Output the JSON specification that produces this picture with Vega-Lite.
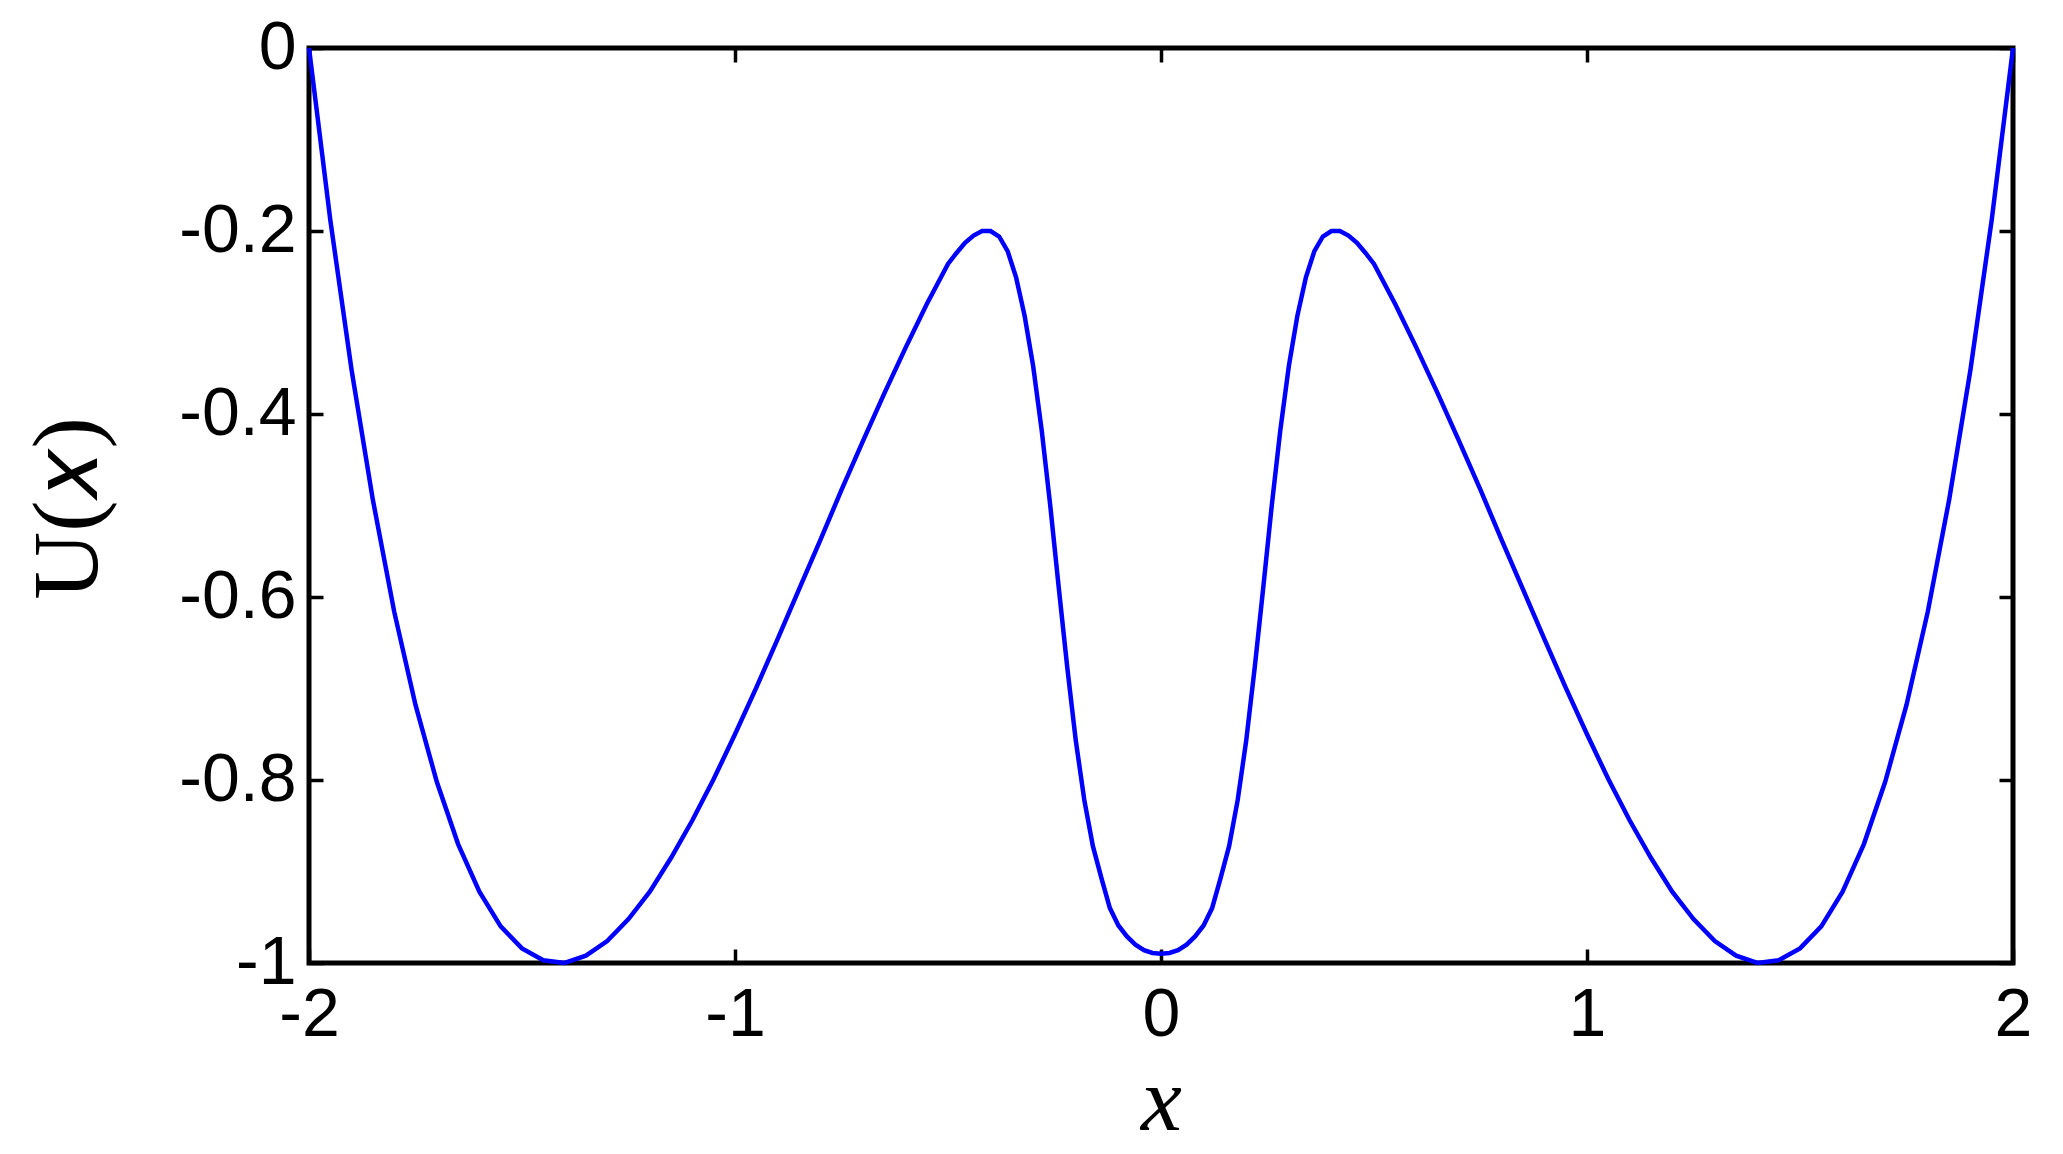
{
  "$schema": "https://vega.github.io/schema/vega-lite/v6.json",
  "width": 1704,
  "height": 915,
  "autosize": "none",
  "padding": {"left": 309, "top": 48, "right": 50, "bottom": 191},
  "background": "white",
  "config": {
    "view": {"stroke": "black", "strokeWidth": 5},
    "axis": {
      "domain": false,
      "grid": false,
      "ticks": true,
      "tickColor": "black",
      "tickWidth": 3.5,
      "labelFont": "Liberation Sans",
      "labelFontSize": 68,
      "labelColor": "black",
      "labelFlush": false,
      "labelOverlap": false,
      "labelBound": false,
      "titleColor": "black",
      "titleFont": "Liberation Serif",
      "titleFontWeight": "normal"
    }
  },
  "data": {
    "values": [
      {"x": -2.0, "U": 0.0}, {"x": -1.95, "U": -0.188}, {"x": -1.9, "U": -0.352}, {"x": -1.85, "U": -0.494},
      {"x": -1.8, "U": -0.616}, {"x": -1.75, "U": -0.718}, {"x": -1.7, "U": -0.802}, {"x": -1.65, "U": -0.87},
      {"x": -1.6, "U": -0.922}, {"x": -1.55, "U": -0.96}, {"x": -1.5, "U": -0.984}, {"x": -1.45, "U": -0.997},
      {"x": -1.4, "U": -1.0}, {"x": -1.35, "U": -0.992}, {"x": -1.3, "U": -0.976}, {"x": -1.25, "U": -0.952},
      {"x": -1.2, "U": -0.922}, {"x": -1.15, "U": -0.885}, {"x": -1.1, "U": -0.844}, {"x": -1.05, "U": -0.799},
      {"x": -1.0, "U": -0.75}, {"x": -0.95, "U": -0.699}, {"x": -0.9, "U": -0.646}, {"x": -0.85, "U": -0.592},
      {"x": -0.8, "U": -0.538}, {"x": -0.75, "U": -0.483}, {"x": -0.7, "U": -0.43}, {"x": -0.65, "U": -0.378},
      {"x": -0.6, "U": -0.328}, {"x": -0.55, "U": -0.28}, {"x": -0.5, "U": -0.236}, {"x": -0.48, "U": -0.224},
      {"x": -0.46, "U": -0.213}, {"x": -0.44, "U": -0.205}, {"x": -0.42, "U": -0.2}, {"x": -0.4, "U": -0.2},
      {"x": -0.38, "U": -0.206}, {"x": -0.36, "U": -0.222}, {"x": -0.34, "U": -0.251}, {"x": -0.32, "U": -0.293},
      {"x": -0.3, "U": -0.348}, {"x": -0.28, "U": -0.418}, {"x": -0.26, "U": -0.5}, {"x": -0.24, "U": -0.59},
      {"x": -0.22, "U": -0.677}, {"x": -0.2, "U": -0.757}, {"x": -0.18, "U": -0.822}, {"x": -0.16, "U": -0.872},
      {"x": -0.14, "U": -0.907}, {"x": -0.12, "U": -0.94}, {"x": -0.1, "U": -0.959}, {"x": -0.08, "U": -0.971},
      {"x": -0.06, "U": -0.98}, {"x": -0.04, "U": -0.986}, {"x": -0.02, "U": -0.989}, {"x": 0.0, "U": -0.99},
      {"x": 0.02, "U": -0.989}, {"x": 0.04, "U": -0.986}, {"x": 0.06, "U": -0.98}, {"x": 0.08, "U": -0.971},
      {"x": 0.1, "U": -0.959}, {"x": 0.12, "U": -0.94}, {"x": 0.14, "U": -0.907}, {"x": 0.16, "U": -0.872},
      {"x": 0.18, "U": -0.822}, {"x": 0.2, "U": -0.757}, {"x": 0.22, "U": -0.677}, {"x": 0.24, "U": -0.59},
      {"x": 0.26, "U": -0.5}, {"x": 0.28, "U": -0.418}, {"x": 0.3, "U": -0.348}, {"x": 0.32, "U": -0.293},
      {"x": 0.34, "U": -0.251}, {"x": 0.36, "U": -0.222}, {"x": 0.38, "U": -0.206}, {"x": 0.4, "U": -0.2},
      {"x": 0.42, "U": -0.2}, {"x": 0.44, "U": -0.205}, {"x": 0.46, "U": -0.213}, {"x": 0.48, "U": -0.224},
      {"x": 0.5, "U": -0.236}, {"x": 0.55, "U": -0.28}, {"x": 0.6, "U": -0.328}, {"x": 0.65, "U": -0.378},
      {"x": 0.7, "U": -0.43}, {"x": 0.75, "U": -0.483}, {"x": 0.8, "U": -0.538}, {"x": 0.85, "U": -0.592},
      {"x": 0.9, "U": -0.646}, {"x": 0.95, "U": -0.699}, {"x": 1.0, "U": -0.75}, {"x": 1.05, "U": -0.799},
      {"x": 1.1, "U": -0.844}, {"x": 1.15, "U": -0.885}, {"x": 1.2, "U": -0.922}, {"x": 1.25, "U": -0.952},
      {"x": 1.3, "U": -0.976}, {"x": 1.35, "U": -0.992}, {"x": 1.4, "U": -1.0}, {"x": 1.45, "U": -0.997},
      {"x": 1.5, "U": -0.984}, {"x": 1.55, "U": -0.96}, {"x": 1.6, "U": -0.922}, {"x": 1.65, "U": -0.87},
      {"x": 1.7, "U": -0.802}, {"x": 1.75, "U": -0.718}, {"x": 1.8, "U": -0.616}, {"x": 1.85, "U": -0.494},
      {"x": 1.9, "U": -0.352}, {"x": 1.95, "U": -0.188}, {"x": 2.0, "U": 0.0}
    ]
  },
  "layer": [
    {
      "mark": {"type": "line", "color": "#0000ff", "strokeWidth": 4.5, "clip": false},
      "encoding": {
        "x": {
          "field": "x",
          "type": "quantitative",
          "scale": {"domain": [-2, 2], "nice": false, "zero": false},
          "axis": {
            "orient": "bottom",
            "values": [-2, -1, 0, 1, 2],
            "tickSize": {"expr": "-14"},
            "labelPadding": 32,
            "labelExpr": "'' + datum.value",
            "title": "x",
            "titleFontStyle": "italic",
            "titleFontSize": 92,
            "titleBaseline": "alphabetic",
            "titleAlign": "center",
            "titleX": 852,
            "titleY": 166
          }
        },
        "y": {
          "field": "U",
          "type": "quantitative",
          "scale": {"domain": [-1, 0], "nice": false, "zero": false},
          "axis": {
            "orient": "left",
            "values": [-1, -0.8, -0.6, -0.4, -0.2, 0],
            "tickSize": {"expr": "-14"},
            "labelPadding": 27,
            "labelExpr": "'' + datum.value",
            "title": "U(\ud835\udc65)",
            "titleFontSize": 94,
            "titleAngle": 270,
            "titleBaseline": "alphabetic",
            "titleAlign": "center",
            "titleX": -213,
            "titleY": 460
          }
        }
      }
    },
    {
      "mark": {"type": "line", "opacity": 0},
      "encoding": {
        "x": {
          "field": "x",
          "type": "quantitative",
          "axis": {"orient": "top", "values": [-2, -1, 0, 1, 2], "tickSize": {"expr": "-14"}, "labels": false, "title": null}
        },
        "y": {
          "field": "U",
          "type": "quantitative",
          "axis": {"orient": "right", "values": [-1, -0.8, -0.6, -0.4, -0.2, 0], "tickSize": {"expr": "-14"}, "labels": false, "title": null}
        }
      }
    }
  ],
  "resolve": {"axis": {"x": "independent", "y": "independent"}}
}
